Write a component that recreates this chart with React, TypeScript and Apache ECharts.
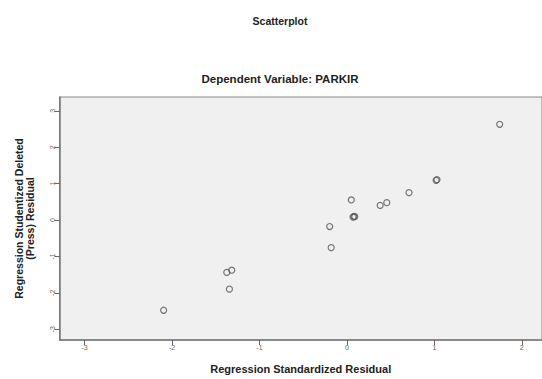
import React, { useEffect, useRef } from "react";
import * as echarts from "echarts";

const xValues = [1.747, 1.02, 1.03, 0.71, 0.456, 0.38, 0.05, 0.07, 0.08, 0.09, -0.197, -0.18, -1.317, -1.374, -1.344, -2.096];
const yValues = [2.63, 1.09, 1.11, 0.75, 0.475, 0.40, 0.55, 0.08, 0.10, 0.09, -0.18, -0.76, -1.38, -1.44, -1.90, -2.48];
const xTicks = [-3, -2, -1, 0, 1, 2];
const yTicks = [-3, -2, -1, 0, 1, 2, 3];

export default function App() {
  const ref = useRef<HTMLDivElement>(null);
  useEffect(() => {
    if (!ref.current) return;
    const chart = echarts.init(ref.current, null, { renderer: "svg" });
    const font = "'Liberation Sans', Arial, sans-serif";
    chart.setOption({
      animation: false,
      backgroundColor: "#ffffff",
      title: [
        {
          text: "Scatterplot",
          left: 275,
          top: 10,
          textAlign: "center",
          textStyle: { fontFamily: font, fontSize: 10.5, fontWeight: "bold", color: "#222" },
        },
        {
          text: "Dependent Variable: PARKIR",
          left: 275,
          top: 68,
          textAlign: "center",
          textStyle: { fontFamily: font, fontSize: 11.5, fontWeight: "bold", color: "#222" },
        },
      ],
      grid: {
        show: true,
        left: 59.5,
        top: 97,
        right: -3,
        bottom: 39,
        backgroundColor: "#f0f0f0",
        borderColor: "#888",
        borderWidth: 1,
      },
      xAxis: {
        type: "value",
        min: -3.287,
        max: 2.231,
        splitLine: { show: false },
        axisLine: { show: true, onZero: false, lineStyle: { color: "#777", width: 1.5 } },
        axisTick: { show: true, length: 5, customValues: xTicks, lineStyle: { color: "#666" } },
        axisLabel: {
          customValues: xTicks,
          fontFamily: font,
          fontSize: 7,
          color: "#666",
          margin: 4,
        },
        name: "Regression Standardized Residual",
        nameLocation: "middle",
        nameGap: 23,
        nameTextStyle: { fontFamily: font, fontSize: 11, fontWeight: "bold", color: "#222" },
      },
      yAxis: {
        type: "value",
        min: -3.297,
        max: 3.379,
        splitLine: { show: false },
        axisLine: { show: true, onZero: false, lineStyle: { color: "#777", width: 1.5 } },
        axisTick: { show: true, length: 5, customValues: yTicks, lineStyle: { color: "#666" } },
        axisLabel: {
          customValues: yTicks,
          fontFamily: font,
          fontSize: 7,
          color: "#666",
          margin: 4,
          rotate: 90,
        },
        name: "Regression Studentized Deleted\n(Press) Residual",
        nameLocation: "middle",
        nameGap: 24,
        nameRotate: 90,
        nameTextStyle: { fontFamily: font, fontSize: 10.5, fontWeight: "bold", color: "#222", lineHeight: 11 },
      },
      series: [
        {
          type: "scatter",
          symbol: "circle",
          symbolSize: 6,
          data: xValues.map((x, i) => [x, yValues[i]]),
          itemStyle: { color: "rgba(0,0,0,0)", borderColor: "#555", borderWidth: 1.2 },
        },
      ],
    });
    return () => chart.dispose();
  }, []);
  return (
    <div
      ref={ref}
      style={{ position: "fixed", left: 0, top: 0, width: 542, height: 379 }}
    />
  );
}
